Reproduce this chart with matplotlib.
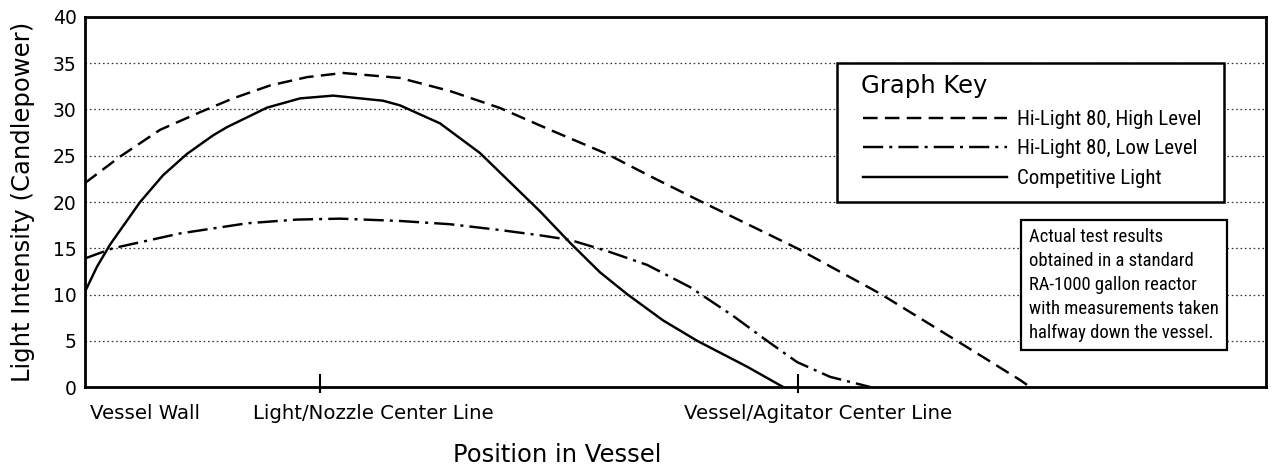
import numpy as np
import matplotlib.pyplot as plt
from matplotlib.patches import Rectangle

# position in vessel (vessel wall = 0, light/nozzle center line = 1)
x_high = [0.000, 0.149, 0.320, 0.490, 0.631, 0.789, 0.947, 1.100, 1.343, 1.556,
          1.770, 1.983, 2.226, 2.409, 2.623, 3.036, 3.390, 3.719, 3.987, 4.030]
y_high = [22.05, 24.9, 27.8, 29.7, 31.2, 32.6, 33.5, 33.95, 33.41, 32.0,
          30.16, 27.8, 25.19, 22.8, 20.1, 15.0, 10.1, 4.97, 0.76, 0.0]

x_low = [0.000, 0.119, 0.405, 0.691, 0.904, 1.087, 1.343, 1.556, 1.770, 1.940,
         2.068, 2.226, 2.397, 2.580, 2.763, 2.908, 3.036, 3.177, 3.348]
y_low = [13.9, 15.0, 16.6, 17.7, 18.1, 18.2, 17.95, 17.6, 16.97, 16.4,
         15.9, 14.7, 13.2, 10.8, 7.7, 5.0, 2.7, 1.1, 0.0]

x_comp = [0.000, 0.051, 0.107, 0.235, 0.333, 0.435, 0.546, 0.606, 0.776, 0.917,
          1.058, 1.271, 1.343, 1.514, 1.684, 1.940, 2.068, 2.196, 2.311, 2.465,
          2.610, 2.823, 2.977]
y_comp = [10.3, 13.0, 15.4, 20.0, 22.9, 25.2, 27.2, 28.1, 30.2, 31.2,
          31.5, 30.95, 30.45, 28.5, 25.3, 19.0, 15.6, 12.4, 10.05, 7.2,
          5.0, 2.2, 0.0]

series_labels = ["Hi-Light 80, High Level", "Hi-Light 80, Low Level", "Competitive Light"]

# marked positions and their names
mark_pos = [1.0, 3.04]
cat_pos = [0.254, 1.23, 3.124]
cat_labels = ["Vessel Wall", "Light/Nozzle Center Line", "Vessel/Agitator Center Line"]

yticks = [0, 5, 10, 15, 20, 25, 30, 35, 40]

note = ("Actual test results\nobtained in a standard\nRA-1000 gallon reactor\n"
        "with measurements taken\nhalfway down the vessel.")

narrow = ["Liberation Sans Narrow", "Roboto Condensed", "DejaVu Sans"]

fig = plt.figure(figsize=(12.74, 4.69), dpi=100)
ax = fig.add_axes([85 / 1274, 1 - 387 / 469, 1181 / 1274, 370 / 469])

lw = 1.75
ax.plot(x_high, y_high, color="black", lw=lw, linestyle=(0, (6, 3)), label=series_labels[0])
ax.plot(x_low, y_low, color="black", lw=lw, linestyle=(0, (8.3, 2.5, 1.25, 2.5)), label=series_labels[1])
ax.plot(x_comp, y_comp, color="black", lw=lw, linestyle="-", label=series_labels[2])

ax.set_xlim(0, 5.036)
ax.set_ylim(0, 40)

# dotted grid
for y in yticks[1:-1]:
    ax.axhline(y, color="#333333", lw=0.9, linestyle=(0, (1.3, 2.2)), zorder=0)

for s in ax.spines.values():
    s.set_linewidth(2)

ax.set_yticks(yticks)
ax.tick_params(axis="y", length=0, pad=6, labelsize=13.5)

ax.xaxis.remove_overlapping_locs = False
ax.set_xticks(mark_pos)
ax.set_xticks(mark_pos, minor=True)
ax.set_xticklabels([])
ax.tick_params(axis="x", which="major", direction="in", length=9.5, width=1.5)
ax.tick_params(axis="x", which="minor", direction="out", length=4.5, width=1.5)

for xp, lab in zip(cat_pos, cat_labels):
    ax.text(xp, -0.0703, lab, transform=ax.get_xaxis_transform(),
            ha="center", va="center", fontsize=14.2)

ax.set_xlabel("Position in Vessel", fontsize=17.5)
ax.xaxis.set_label_coords((557 - 85) / 1181, (387 - 455) / 370)
ax.xaxis.label.set_va("center")

ax.set_ylabel("Light Intensity (Candlepower)", fontsize=17.5)
ax.yaxis.set_label_coords((23 - 85) / 1181, 0.5)
ax.yaxis.label.set_va("center")

# graph key
ytr = ax.get_yaxis_transform()
ax.add_patch(Rectangle((0.6368, 20), 0.3276, 15, transform=ytr, facecolor="white",
                       edgecolor="black", lw=1.8, zorder=4))
ax.text((861 - 85) / 1181, 32.54, "Graph Key", transform=ytr, fontsize=17.5,
        ha="left", va="center", zorder=6)
leg = ax.legend(loc="upper left", bbox_to_anchor=((863 - 85) / 1181, (387 - 110) / 370),
                frameon=False, borderpad=0, borderaxespad=0, handlelength=6.9,
                handletextpad=0.5, labelspacing=0.5,
                prop={"family": narrow, "size": 15.0})
leg.set_zorder(5)

# note box
ax.text((1029 - 85) / 1181 * 5.036, 11.03, note, fontsize=13.4, family=narrow,
        ha="left", va="center", linespacing=1.42, zorder=6,
        bbox=dict(boxstyle="square,pad=0.43", facecolor="white", edgecolor="black", lw=1.6))

fig.savefig("out.png", dpi=100)
